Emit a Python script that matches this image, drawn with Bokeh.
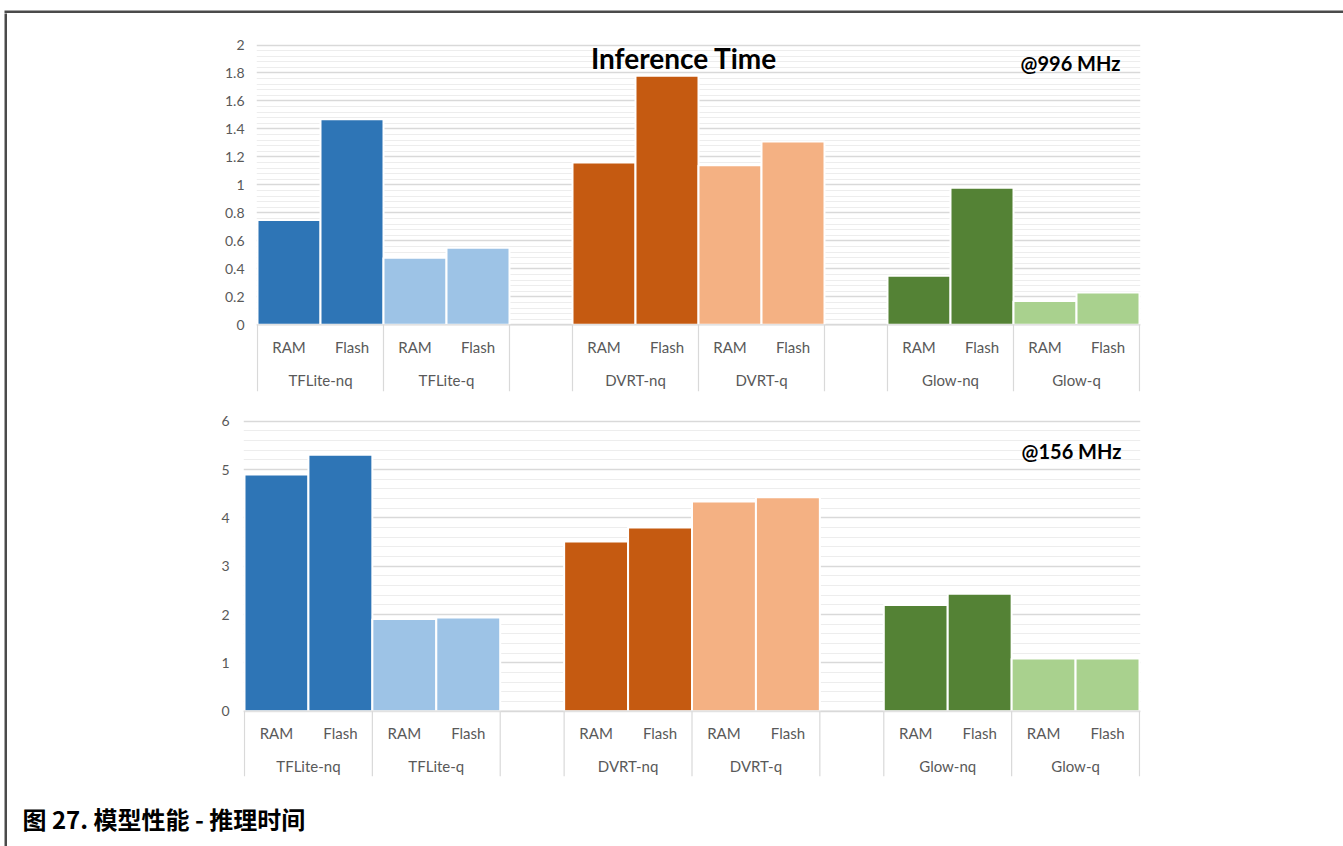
from bokeh.plotting import figure
from bokeh.layouts import column, row
from bokeh.models import (ColumnDataSource, Range1d, FixedTicker, NumeralTickFormatter,
                          Label, Span)
from bokeh.core.properties import value
from bokeh.embed import file_html
from bokeh.resources import INLINE

# ---- data -----------------------------------------------------------------
models = ["TFLite-nq", "TFLite-q", "DVRT-nq", "DVRT-q", "Glow-nq", "Glow-q"]
memories = ["RAM", "Flash"]

ram_996 = [0.75, 0.48, 1.16, 1.14, 0.35, 0.17]
flash_996 = [1.47, 0.55, 1.78, 1.31, 0.98, 0.23]

ram_156 = [4.90, 1.91, 3.51, 4.34, 2.20, 1.09]
flash_156 = [5.31, 1.94, 3.80, 4.43, 2.43, 1.09]

ticks_996 = [0, 0.2, 0.4, 0.6, 0.8, 1.0, 1.2, 1.4, 1.6, 1.8, 2.0]
ticks_156 = [0, 1, 2, 3, 4, 5, 6]

model_colors = ["#2E75B6", "#9DC3E6", "#C55A11", "#F4B183", "#548235", "#A9D18E"]

title_text = "Inference Time"
freq_996 = "@996 MHz"
freq_156 = "@156 MHz"
caption_text = "图 27. 模型性能 - 推理时间"

# ---- style ----------------------------------------------------------------
PAGE_W = 1343
PAGE_H = 846
RULE_X = 4          # page rule: left edge of the vertical rule
RULE_Y = 10         # page rule: top edge of the horizontal rule
RULE_W = 3
OX = RULE_X + RULE_W    # content origin on the page
OY = RULE_Y + RULE_W
CONTENT_W = PAGE_W - OX

FONT = "Lato"
LABEL_GRAY = "#595959"
GRID = "#D9D9D9"
MINOR_GRID = "#EDEDED"
BORDER = "#4A4A4A"

# every model takes two slots (RAM, Flash); frameworks are split by one empty slot
N_SLOTS = 14


def slot_start(i):
    return (i // 2) * 5 + (i % 2) * 2


def blank(p):
    p.outline_line_color = None
    p.grid.visible = False
    p.border_fill_color = "white"
    return p


def make_chart(ram, flash, ticks, n_minor, geo, freq_text, title=None):
    """geo holds page-pixel positions of the chart frame and labels."""
    ymax = ticks[-1]
    k = (geo["zero"] - geo["top_val"]) / ymax          # pixels per unit
    slot_w = (geo["right"] - geo["left"]) / N_SLOTS
    pad = 1
    x_range = Range1d(-pad / slot_w, N_SLOTS + pad / slot_w)
    y_range = Range1d(-(geo["frame_bottom"] - geo["zero"]) / k,
                      ymax + (geo["top_val"] - geo["frame_top"]) / k)

    def dx(page_x):
        return (page_x - geo["left"]) / slot_w

    def dy(page_y):
        return (geo["zero"] - page_y) / k

    fig_top = geo["page_top"]
    fig_bottom = geo["page_bottom"]
    p = figure(width=CONTENT_W, height=fig_bottom - fig_top,
               x_range=x_range, y_range=y_range,
               x_axis_location=None, y_axis_location="left",
               toolbar_location=None, output_backend="svg", frame_align=False,
               min_border_left=geo["left"] - pad - OX,
               min_border_right=PAGE_W - geo["right"] - pad,
               min_border_top=geo["frame_top"] - fig_top,
               min_border_bottom=fig_bottom - geo["frame_bottom"])
    p.outline_line_color = None
    p.background_fill_color = "white"
    p.border_fill_color = "white"

    step = ticks[1] - ticks[0]
    minor = [round(t + step * m / n_minor, 4) for t in ticks[:-1] for m in range(1, n_minor)]
    ticker = FixedTicker(ticks=ticks, minor_ticks=minor)

    ax = p.yaxis[0]
    ax.ticker = ticker
    ax.bounds = (0, ymax)
    ax.formatter = NumeralTickFormatter(format="0.[0]")
    ax.axis_line_color = None
    ax.major_tick_line_color = None
    ax.minor_tick_line_color = None
    ax.major_tick_out = 0
    ax.major_tick_in = 0
    ax.minor_tick_out = 0
    ax.minor_tick_in = 0
    ax.major_label_standoff = geo["standoff"]
    ax.major_label_text_font = FONT
    ax.major_label_text_font_size = "14px"
    ax.major_label_text_color = LABEL_GRAY

    p.ygrid.ticker = ticker
    p.ygrid.bounds = (0, ymax)
    p.ygrid.grid_line_color = GRID
    p.ygrid.grid_line_width = 1.3
    p.ygrid.minor_grid_line_color = MINOR_GRID
    p.xgrid.visible = False

    # bars
    xs, tops, colors, mems = [], [], [], []
    for i in range(len(models)):
        for j, val in enumerate((ram[i], flash[i])):
            xs.append(slot_start(i) + j + 0.5)
            tops.append(val)
            colors.append(model_colors[i])
            mems.append(memories[j])
    bars = ColumnDataSource(dict(x=xs, top=tops, color=colors, mem=mems))
    p.vbar(x="x", top="top", bottom=0, width=1, source=bars,
           fill_color="color", line_color="white", line_width=2)

    p.add_layout(Span(location=0, dimension="width", line_color=GRID, line_width=1.3))

    # category axis drawn as two text rows with separators between models
    edges = sorted({slot_start(i) for i in range(len(models))} |
                   {slot_start(i) + 2 for i in range(len(models))})
    sep = ColumnDataSource(dict(x=edges))
    p.segment(x0="x", y0=0, x1="x", y1=y_range.start, source=sep,
              line_color=GRID, line_width=1.2)

    p.text(x="x", y=dy(geo["zero"] + geo["mem_off"]), text="mem", source=bars,
           text_font=value(FONT), text_font_size="15px", text_color=LABEL_GRAY,
           text_align="center", text_baseline="middle")

    grp = ColumnDataSource(dict(x=[slot_start(i) + 1 for i in range(len(models))], name=models))
    p.text(x="x", y=dy(geo["zero"] + geo["grp_off"]), text="name", source=grp,
           text_font=value(FONT), text_font_size="15px", text_color=LABEL_GRAY,
           text_align="center", text_baseline="middle")

    if title:
        p.add_layout(Label(x=dx(683.5), y=dy(57), text=title,
                           text_font=FONT, text_font_style="bold", text_font_size="28px",
                           text_color="black", text_align="center", text_baseline="middle"))
    p.add_layout(Label(x=dx(geo["freq_x"]), y=dy(geo["freq_y"]), text=freq_text,
                       text_font=FONT, text_font_style="bold", text_font_size="20px",
                       text_color="black", text_align="center", text_baseline="middle"))
    return p


geo_top = dict(page_top=OY, page_bottom=400, left=257, right=1139,
               frame_top=40, frame_bottom=391, top_val=44.5, zero=324.3,
               mem_off=22, grp_off=55, freq_x=1070, freq_y=62, standoff=12)
geo_bot = dict(page_top=400, page_bottom=792, left=244, right=1139,
               frame_top=414, frame_bottom=776, top_val=420.8, zero=710.7,
               mem_off=21.5, grp_off=55, freq_x=1071, freq_y=450, standoff=14)

p1 = make_chart(ram_996, flash_996, ticks_996, 5, geo_top, freq_996, title=title_text)
p2 = make_chart(ram_156, flash_156, ticks_156, 5, geo_bot, freq_156)

# caption strip
CAP_TOP = 792
CAP_H = PAGE_H - CAP_TOP
p3 = blank(figure(width=CONTENT_W, height=CAP_H, x_range=Range1d(OX, PAGE_W),
                  y_range=Range1d(PAGE_H, CAP_TOP),
                  x_axis_location=None, y_axis_location=None, toolbar_location=None,
                  output_backend="svg", min_border=0, frame_align=False))
p3.add_layout(Label(x=22, y=818, text=caption_text, text_font="Noto Sans CJK SC",
                    text_font_style="bold", text_font_size="24px", text_color="black",
                    text_align="left", text_baseline="middle"))

# page rules: a thin frame filled with the rule colour
top_rule = blank(figure(width=PAGE_W, height=OY, x_range=Range1d(0, 1), y_range=Range1d(0, 1),
                        x_axis_location=None, y_axis_location=None, toolbar_location=None,
                        output_backend="svg", frame_align=False,
                        min_border_left=RULE_X, min_border_right=0,
                        min_border_top=RULE_Y, min_border_bottom=0))
top_rule.background_fill_color = BORDER

left_rule = blank(figure(width=OX, height=PAGE_H - OY, x_range=Range1d(0, 1), y_range=Range1d(0, 1),
                         x_axis_location=None, y_axis_location=None, toolbar_location=None,
                         output_backend="svg", frame_align=False,
                         min_border_left=RULE_X, min_border_right=0,
                         min_border_top=0, min_border_bottom=0))
left_rule.background_fill_color = BORDER

page = column(top_rule, row(left_rule, column(p1, p2, p3, spacing=0), spacing=0), spacing=0)

with open("out.html", "w") as f:
    f.write(file_html(page, INLINE))
